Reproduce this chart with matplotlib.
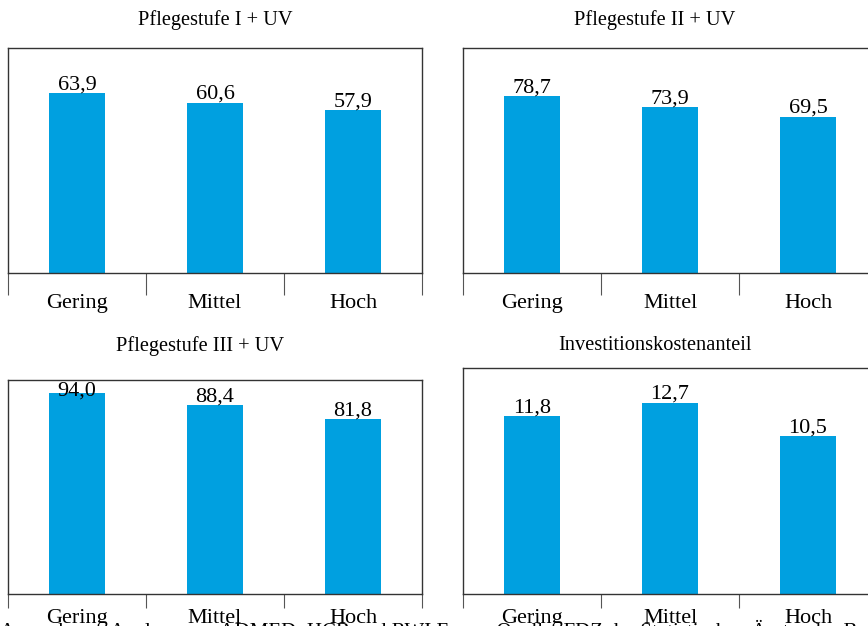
import numpy as np
import matplotlib.pyplot as plt

plt.rcParams['font.family'] = ['Liberation Serif', 'DejaVu Serif']

kategorien = ['Gering', 'Mittel', 'Hoch']
titel = ['Pflegestufe I + UV', 'Pflegestufe II + UV',
         'Pflegestufe III + UV', 'Investitionskostenanteil']
werte_p1 = [63.9, 60.6, 57.9]
werte_p2 = [78.7, 73.9, 69.5]
werte_p3 = [94.0, 88.4, 81.8]
werte_inv = [11.8, 12.7, 10.5]
ymax = [80, 100, 100, 15]
quelle = ('Anmerkung: Analyse von ADMED, HCB und RWI Essen; Quelle: FDZ der Statistischen '
          'Ämter des Bundes und der Länder 2007; Heiger und Rudolph')

blau = '#00A0E0'
W, H = 868, 626
fig = plt.figure(figsize=(W / 100, H / 100), dpi=100)

# axes boxes in pixels: left, top, right, bottom
boxen = [(8, 48, 422, 273), (463, 48, 877, 273),
         (8, 380, 422, 594), (463, 368, 877, 594)]
titel_pos = [(215, 20), (655, 20), (200, 346), (655, 346)]
tick_len = [16, 16, 10, 10]
label_pad = [15, 15, 10.5, 10.5]
daten = [werte_p1, werte_p2, werte_p3, werte_inv]

for k in range(4):
    l, t, r, b = boxen[k]
    ax = fig.add_axes([l / W, 1 - b / H, (r - l) / W, (b - t) / H])
    x = np.arange(len(kategorien))
    ax.bar(x, daten[k], width=0.41, color=blau, zorder=2)
    ax.set_xlim(-0.5, 2.5)
    ax.set_ylim(0, ymax[k])
    for i, v in enumerate(daten[k]):
        yl = min(v, ymax[k] * 0.91)
        ax.annotate(('%.1f' % v).replace('.', ','), (i, yl), xytext=(0, -1),
                    textcoords='offset points', ha='center', va='bottom',
                    fontsize=16, zorder=3, annotation_clip=False)
    ax.set_yticks([])
    ax.set_xticks(x)
    ax.set_xticklabels(kategorien, fontsize=16)
    ax.tick_params(axis='x', which='major', length=0, pad=label_pad[k])
    ax.set_xticks([-0.5, 0.5, 1.5, 2.5], minor=True)
    ax.tick_params(axis='x', which='minor', length=tick_len[k], width=0.8,
                   color='#555555')
    for s in ax.spines.values():
        s.set_linewidth(1.0)
        s.set_color('#333333')
    fig.text(titel_pos[k][0] / W, 1 - titel_pos[k][1] / H, titel[k],
             ha='center', va='center', fontsize=14.7)

fig.text(0.0, 1 - 620 / H, quelle, ha='left', va='top', fontsize=15)

fig.savefig('out.png', dpi=100)
